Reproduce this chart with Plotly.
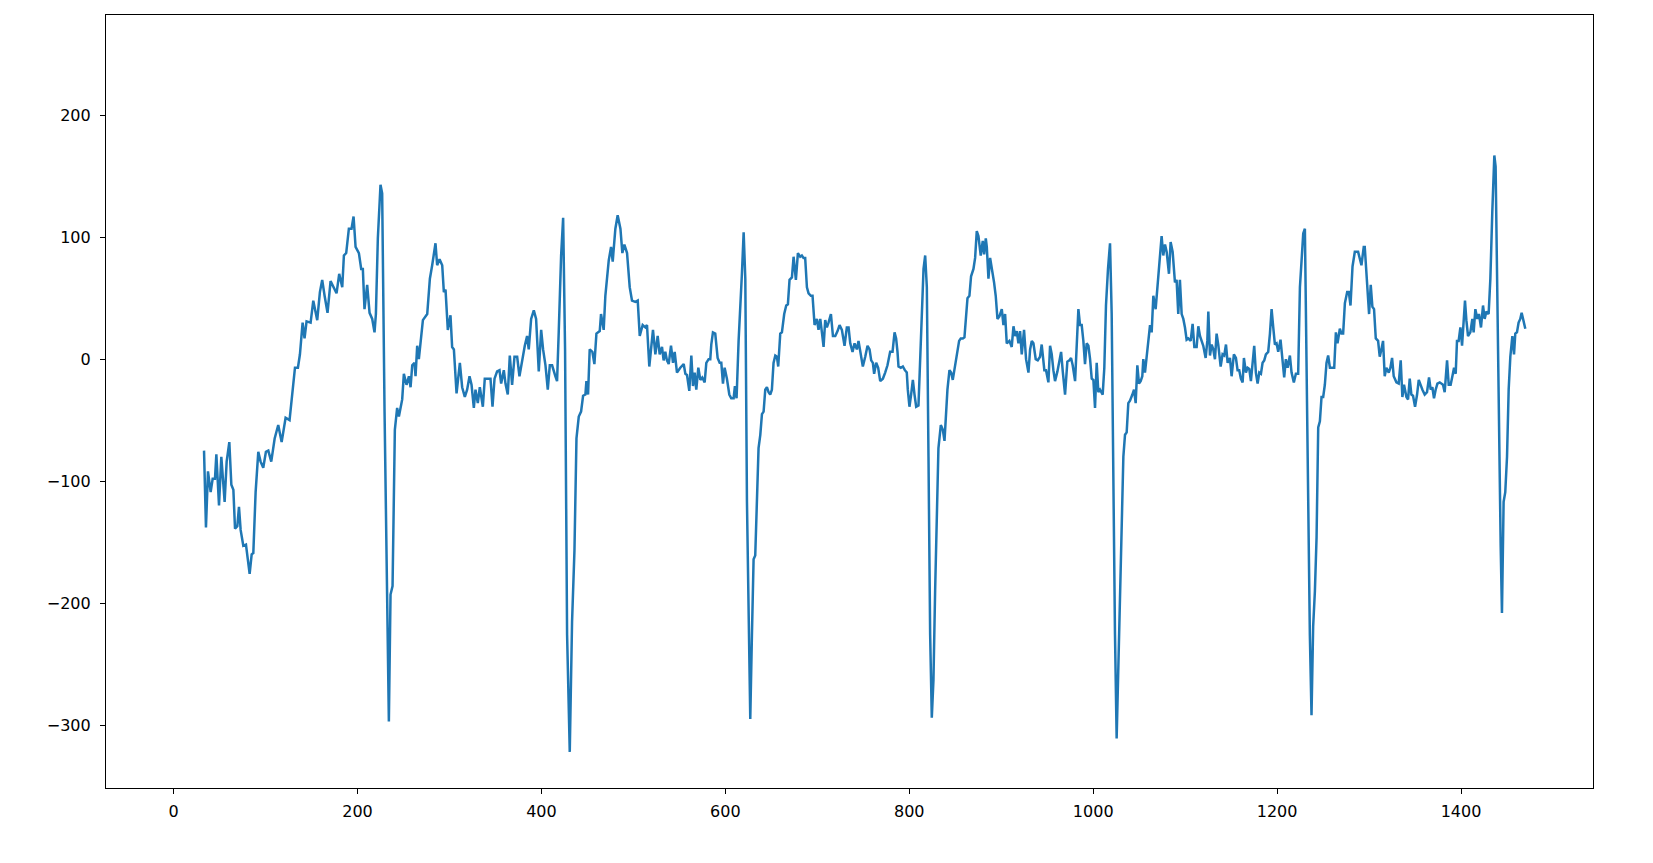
import plotly.graph_objects as go

# Sample index (x) and signal amplitude (y)
sample_index = [
    33.1, 35.2, 37.4, 40.3, 42.5, 45.0, 46.5, 49.4, 51.9, 55.5, 57.7, 60.6, 62.8, 65.0, 66.8, 69.3,
    71.1, 72.9, 75.8, 78.7, 82.7, 84.9, 86.7, 89.2, 92.1, 94.6, 97.5, 100.4, 103.0, 106.2, 109.9,
    113.8, 117.5, 121.8, 126.1, 129.0, 132.0, 135.2, 137.4, 140.3, 142.4, 144.6, 149.0, 151.9,
    156.2, 159.1, 161.6, 164.2, 167.4, 170.7, 174.3, 177.2, 180.1, 183.4, 185.2, 187.7, 190.6,
    193.5, 195.7, 197.9, 201.5, 204.0, 205.8, 207.6, 210.5, 213.1, 216.0, 218.5, 220.0, 222.1,
    225.0, 226.8, 229.4, 231.5, 234.1, 235.9, 238.1, 240.6, 243.1, 245.0,
    248.6, 250.4, 253.3, 255.9, 257.7, 259.5, 262.0, 263.1, 264.9, 266.7, 268.5, 271.1, 275.8,
    278.7, 281.2, 284.8, 286.6, 289.2, 292.1, 293.9, 295.7, 298.2, 301.1, 302.9, 304.8, 307.7,
    311.3, 313.8, 316.7, 319.2, 321.8, 324.0, 326.5, 328.3, 330.8, 333.0, 336.3, 338.4, 341.7,
    344.6, 346.8, 349.0, 351.8, 354.4, 356.2, 359.1, 360.9, 363.4, 365.6, 368.1, 370.7, 373.6,
    376.1, 379.0, 381.9, 384.4, 386.2, 388.8, 391.7, 394.2, 397.1, 399.7, 401.8, 404.4, 406.9,
    409.1, 411.6, 415.2, 417.0, 418.8, 421.4, 423.6, 425.7, 427.9, 430.8, 433.3, 435.9, 438.1,
    440.6, 443.1, 445.3, 447.8, 448.9, 450.7, 452.5, 455.4, 457.6, 459.8, 463.4, 464.8, 467.7,
    469.5, 473.2, 475.7, 477.5, 480.4, 482.9, 485.9, 488.0, 490.2, 493.1, 496.0, 498.5, 502.2,
    504.7, 506.9,
    510.1, 513.0, 514.8, 517.3, 519.2, 521.3, 523.9, 526.4, 528.6, 531.1, 532.9, 534.7, 536.5,
    538.4, 540.9, 543.1, 544.9, 547.4, 551.0, 554.7, 556.5, 558.3, 560.8, 563.0, 564.8, 566.6,
    568.4, 570.6, 572.8, 574.9, 577.5, 579.3, 581.8, 583.6, 584.7, 586.5, 589.0, 591.6, 593.8,
    595.6, 597.4, 599.2, 601.7, 604.3, 606.4, 609.0, 610.4, 612.2, 614.4, 616.2, 618.0, 619.9,
    621.7, 623.5, 625.3, 627.1, 628.9, 630.7, 632.5, 634.3, 636.1, 638.0, 639.8, 641.6, 643.4,
    645.2, 647.0, 648.8, 650.6, 652.4, 654.3, 656.1, 657.5, 659.7, 661.5, 664.0, 666.2, 668.0,
    669.8, 672.4, 674.2, 676.7, 678.9, 681.4, 683.2, 685.0, 686.8, 688.7, 690.5, 693.0, 694.8,
    697.0, 699.5, 701.3,
    703.2, 705.0, 706.8, 708.6, 710.4, 712.2, 714.8, 717.0, 719.5, 722.0, 724.2, 726.7, 729.6,
    732.1, 734.0, 735.8, 738.3, 740.5, 743.0, 744.8, 746.6, 749.5, 752.1, 754.6, 756.8, 758.6,
    760.4, 761.8, 764.0, 766.2, 768.4, 771.3, 773.8, 776.3, 779.2, 781.8, 784.0, 785.7, 787.2,
    788.3, 790.8, 793.0, 795.2, 797.3, 798.4, 800.2, 802.0, 803.9, 805.7, 807.5, 810.0, 811.8,
    813.6, 815.5, 817.3, 819.1, 820.9, 822.7, 824.5, 826.3, 828.1, 830.0, 831.7, 834.3, 836.5,
    838.3, 840.1, 841.5, 843.7, 845.5, 847.3, 849.1, 851.7, 854.2, 856.0, 858.2, 860.0, 861.8,
    863.3, 865.4, 867.2, 869.8, 871.6, 873.4, 875.2, 877.7, 879.9, 881.4, 883.2, 884.3, 886.1,
    887.9, 890.4, 892.2, 894.0, 895.9, 898.0,
    900.6, 902.4, 904.2, 906.0, 908.9, 911.4, 913.3, 915.1, 916.9, 918.7, 920.5, 922.3, 924.8,
    927.0, 929.6, 931.4, 933.2, 935.0, 937.5, 939.7, 942.2, 944.0, 946.9, 948.7, 951.3, 953.1,
    954.9, 956.7, 958.5, 961.1, 963.2, 965.1, 966.9, 969.4, 971.9, 974.1, 975.9, 977.7, 980.3,
    982.1, 983.9, 985.7, 987.5, 989.3, 991.1, 992.9, 994.8, 996.6, 998.4, 1000.2, 1002.0,
    1003.8, 1005.6, 1007.4, 1010.3, 1012.1, 1013.9, 1016.1, 1018.3, 1020.1, 1021.9, 1023.7,
    1025.5, 1027.3, 1029.9, 1032.8, 1034.6, 1036.4, 1038.2, 1040.0, 1042.6, 1044.4, 1046.2,
    1048.0, 1049.8, 1051.6, 1053.4, 1054.5, 1056.3, 1058.1, 1059.9, 1061.8, 1063.6, 1065.4,
    1067.9, 1069.7, 1071.5, 1074.4, 1076.2, 1078.1, 1079.9, 1082.4, 1084.2, 1086.4, 1088.9,
    1090.7, 1092.5, 1094.3,
    1096.2, 1098.0, 1099.8, 1101.6, 1103.4, 1106.0, 1108.1, 1110.0, 1112.5, 1114.3, 1116.1,
    1117.9, 1119.7, 1122.3, 1124.1, 1125.2, 1127.0, 1128.8, 1130.6, 1132.4, 1134.2, 1136.0,
    1138.6, 1140.7, 1142.5, 1144.4, 1146.2, 1148.7, 1150.5, 1153.0, 1155.2, 1157.0, 1158.8,
    1160.6, 1162.5, 1163.9, 1166.1, 1167.9, 1169.7, 1171.5, 1173.3, 1175.1, 1176.9, 1178.8,
    1180.6, 1182.4, 1184.2, 1186.0, 1187.8, 1190.3, 1192.2, 1194.0, 1195.8, 1197.6, 1199.4,
    1201.2, 1203.7, 1205.9, 1207.7, 1209.5, 1211.4, 1213.9, 1215.7, 1218.2, 1220.4, 1222.9,
    1224.8, 1226.6, 1228.4, 1230.2, 1232.0, 1233.8, 1235.6, 1237.4, 1239.2, 1241.1, 1242.9,
    1244.7, 1246.5, 1248.3, 1250.1, 1251.9, 1253.7, 1255.5, 1257.4, 1259.9, 1262.1, 1263.9,
    1265.7, 1268.2, 1270.0, 1271.8, 1273.7, 1276.2, 1278.0, 1279.8, 1282.0, 1284.5, 1286.3,
    1288.1,
    1291.7, 1294.2, 1295.3, 1297.8, 1300.0, 1301.8, 1303.6, 1305.4, 1307.3, 1309.8, 1311.6,
    1313.4, 1315.2, 1317.0, 1318.8, 1321.4, 1323.2, 1325.0, 1326.8, 1329.7, 1332.2, 1334.4,
    1336.2, 1338.0, 1340.6, 1342.4, 1344.2, 1346.0, 1347.8, 1350.0, 1352.2, 1354.0, 1355.8,
    1358.0, 1360.5, 1363.0, 1365.2, 1367.0, 1368.8, 1370.6, 1372.4, 1374.3, 1376.8, 1378.6,
    1380.4, 1382.2, 1384.8, 1386.6, 1388.7, 1390.6, 1392.4, 1394.2, 1395.6, 1397.4, 1399.3,
    1401.1, 1402.9, 1404.3, 1405.8, 1407.6, 1410.1, 1412.3, 1413.7, 1415.6, 1417.7, 1419.5,
    1421.7, 1423.9, 1425.7, 1427.5, 1430.0, 1431.9, 1434.0, 1436.2, 1437.6, 1439.5, 1441.3,
    1443.1, 1444.5, 1446.3, 1448.1, 1450.0, 1451.8, 1453.6, 1455.8, 1457.6, 1459.0, 1460.8,
    1462.6, 1464.4, 1465.9, 1467.7, 1469.9,
]

amplitude = [
    -75, -138, -92, -109, -98, -98, -78, -120, -80, -117, -84, -68, -103, -107, -139, -137,
    -121, -140, -153, -152, -176, -160, -159, -109, -76, -84, -89, -76, -75, -84, -65,
    -54, -68, -48, -50, -29, -7, -7, 4, 30, 17, 31, 30, 48,
    32, 55, 65, 52, 38, 64, 59, 54, 70, 59, 85, 87, 107,
    107, 117, 92, 87, 74, 74, 41, 61, 38, 33, 22, 37, 99,
    143, 136, -43, -153, -297, -193, -186, -58, -40, -47,
    -33, -12, -21, -14, -23, -5, -3, -14, 11, 0, 13, 32, 37,
    66, 77, 95, 77, 82, 77, 55, 57, 24, 36, 10, 8, -28,
    -3, -23, -31, -25, -14, -21, -40, -25, -36, -23, -39, -16, -16,
    -16, -39, -16, -10, -9, -20, -9, -20, -29, 3, -21, 2, 2,
    -14, -1, 11, 19, 8, 33, 40, 33, -10, 24, 8, -5, -25,
    -5, -5, -14, -18, 22, 85, 116, 8, -226, -322, -215, -157, -65,
    -47, -43, -30, -29, -18, -29, 8, 6, -4, 21, 23, 37, 24,
    52, 81, 92, 80, 107, 118, 107, 87, 94, 87, 59, 48, 47,
    48, 19,
    28, 26, 28, -6, 8, 24, 4, 19, 4, 10, -1, 6, -1,
    -4, 11, -3, 6, -11, -7, -4, -12, -13, -26, 3, -22, -11,
    -25, -7, -17, -15, -19, -3, 0, 0, 12, 22, 21, 1, -3,
    -3, -20, -7, -16, -29, -32, -32, -22, -32, 15, 50, 70, 104,
    66, -117, -227, -295, -226, -164, -161, -109, -73, -62, -45, -43, -25,
    -23, -27, -29, -25, -3, 3, 2, -6, 21, 22, 37, 44, 45,
    65, 67, 84, 65, 87, 84, 85, 83, 83, 59, 54, 52, 52,
    28, 33, 24,
    33, 22, 10, 32, 26, 30, 37, 19, 19, 23, 28, 24, 11,
    26, 26, 13, 6, 13, 8, 15, 8, -6, 2, 11, 8, -1,
    -3, -12, -3, -7, -18, -16, -11, -5, 6, 6, 22, 17, 6,
    -6, -7, -6, -9, -11, -25, -39, -29, -17, -29, -39, -38, 0,
    48, 74, 85, 59, -80, -226, -294, -263, -190, -128, -73, -54, -58,
    -67, -36, -25, -9, -11, -17, -9, 5, 15, 17, 17, 18, 37,
    50, 52, 68, 74, 83, 105, 101, 85, 97, 86, 99, 92, 66,
    83, 72, 63, 52, 33, 35,
    41, 28, 37, 13, 15, 10, 27, 19, 23, 13, 23, 4, 24,
    0, -11, 8, 15, 13, 0, -1, 2, 12, -9, -9, -19, 11,
    4, -9, -18, -10, -3, 6, -10, -29, -2, -1, 1, -5, -18,
    8, 41, 28, 28, 15, -4, 13, 11, 0, -16, -17, -40,
    -3, -27, -25, -29, -7, 44, 74, 95, 37, -117, -226,
    -311, -256, -172, -80, -62, -60, -36, -34, -29, -25, -36,
    -5, -20, -18, -14, 0, -11, 2, 19, 28, 22, 52,
    41, 59, 76, 101, 85, 94, 88, 70, 96, 88, 63,
    65, 37, 65,
    37, 33, 26, 16, 17, 15, 29, 10, 10, 27, 19,
    15, 11, 1, 15, 39, 3, 12, 8, 0, 21, 12,
    -6, 4, 3, 12, -3, 1, -14, 4, 1, -9, -9,
    -16, -19, 1, -11, -7, -8, -18, -3, 11, -11, -20,
    -11, -12, -3, -1, 4, 6, 21, 41, 26, 12, 13,
    6, 16, 0, -15, 0, -7, 3, -11, -19, -12, -12,
    59, 81, 103, 107, -7, -117, -226, -292, -219, -190, -146,
    -56, -51, -31, -31, -21, -3, 3, -7, -7, -7, 22,
    13, 25, 21, 21, 46, 55, 55, 44, 76, 88, 88,
    88,
    77, 92, 92, 66, 37, 61, 43, 41, 17, 15, 2,
    8, 15, -14, -7, -11, -7, 1, -14, -19, -20, -1,
    -31, -21, -31, -33, -16, -29, -30, -39, -29, -17, -21,
    -25, -29, -27, -15, -25, -23, -32, -25, -20, -19, -20,
    -21, -27, -1, -21, -21, -14, -7, -12, 15, 15, 26,
    11, 32, 48, 32, 19, 22, 33, 22, 41, 33, 37,
    26, 44, 33, 39, 37, 66, 121, 167, 158, 48, -80,
    -153, -208, -117, -109, -80, -25, 2, 19, 4, 21, 22,
    30, 33, 38, 33, 25,
]

x_tick_values = [0, 200, 400, 600, 800, 1000, 1200, 1400]
y_tick_values = [-300, -200, -100, 0, 100, 200]
x_limits = [-73.5, 1543.5]
y_limits = [-351.6, 282.2]

fig = go.Figure()
fig.add_trace(go.Scatter(
    x=sample_index, y=amplitude, mode="lines",
    line=dict(color="#1f77b4", width=2.5),
    showlegend=False, hoverinfo="x+y",
))

axis_style = dict(
    showgrid=False, zeroline=False, showline=True, mirror=True,
    linecolor="black", linewidth=1.2, ticks="outside", ticklen=5,
    tickwidth=1.2, tickcolor="black",
    tickfont=dict(family="DejaVu Sans", size=16, color="black"),
)

# The page body adds an 8px margin, so the figure is sized to fit inside it
fig.update_layout(
    width=1637, height=847,
    margin=dict(l=98, r=52, t=7, b=67, pad=0),
    paper_bgcolor="white", plot_bgcolor="white",
    xaxis=dict(range=x_limits, tickvals=x_tick_values, ticklabelstandoff=4, **axis_style),
    yaxis=dict(range=y_limits, tickvals=y_tick_values, ticklabelstandoff=6, **axis_style),
)

fig.write_html("out.html")
